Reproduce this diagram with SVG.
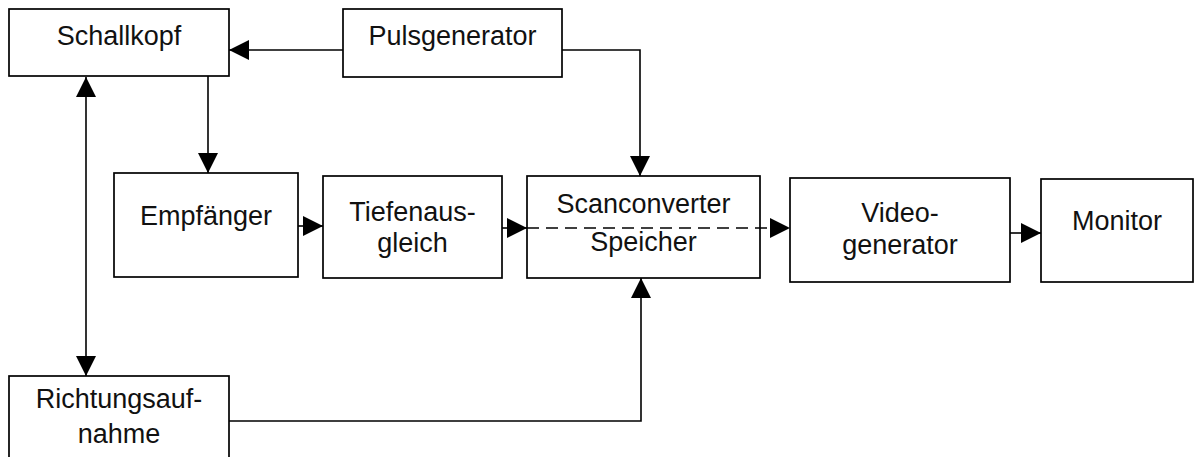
<svg xmlns="http://www.w3.org/2000/svg" width="1197" height="457" viewBox="0 0 1197 457">
<style>
  .box { fill: #ffffff; stroke: #000000; stroke-width: 1.7; }
  .lbl { font-family: "Liberation Sans", Arial, sans-serif; font-size: 27px; fill: #111111; text-anchor: middle; }
  .con { fill: none; stroke: #000000; stroke-width: 1.6; }
  .dash { stroke-dasharray: 12 7; }
</style>
<defs>
  <marker id="arr" markerUnits="userSpaceOnUse" markerWidth="20" markerHeight="20" refX="20" refY="10" orient="auto-start-reverse" viewBox="0 0 20 20">
    <path d="M0,0 L20,10 L0,20 Z" fill="#000000"/>
  </marker>
</defs>
<rect width="1197" height="457" fill="#ffffff"/>

<g id="schallkopf">
  <rect class="box" x="9" y="9" width="220" height="67"/>
  <text class="lbl" x="119" y="45">Schallkopf</text>
</g>
<g id="pulsgenerator">
  <rect class="box" x="343" y="9" width="219" height="68"/>
  <text class="lbl" x="452.5" y="45">Pulsgenerator</text>
</g>
<g id="empfaenger">
  <rect class="box" x="114" y="173" width="184" height="104"/>
  <text class="lbl" x="206" y="225">Empfänger</text>
</g>
<g id="tiefenausgleich">
  <rect class="box" x="323" y="176" width="179" height="102"/>
  <text class="lbl" x="412.5" y="221">Tiefenaus-</text>
  <text class="lbl" x="412.5" y="252">gleich</text>
</g>
<g id="scanconverter">
  <rect class="box" x="527" y="176" width="233" height="102"/>
  <text class="lbl" x="643.5" y="213">Scanconverter</text>
  <text class="lbl" x="643.5" y="251">Speicher</text>
</g>
<g id="videogenerator">
  <rect class="box" x="790" y="178" width="220" height="104"/>
  <text class="lbl" x="900" y="222">Video-</text>
  <text class="lbl" x="900" y="254">generator</text>
</g>
<g id="monitor">
  <rect class="box" x="1041" y="179" width="152" height="103"/>
  <text class="lbl" x="1117" y="230">Monitor</text>
</g>
<g id="richtungsaufnahme">
  <rect class="box" x="9" y="376" width="220" height="95"/>
  <text class="lbl" x="119" y="408">Richtungsauf-</text>
  <text class="lbl" x="119" y="443">nahme</text>
</g>

<g id="connectors">
  <path class="con" d="M343,50 H229" marker-end="url(#arr)"/>
  <path class="con" d="M562,50 H640 V176" marker-end="url(#arr)"/>
  <path class="con" d="M208,76 V173" marker-end="url(#arr)"/>
  <path class="con" d="M86,77 V376" marker-start="url(#arr)" marker-end="url(#arr)"/>
  <path class="con" d="M298,226 H323" marker-end="url(#arr)"/>
  <path class="con" d="M502,228 H527" marker-end="url(#arr)"/>
  <path class="con dash" d="M527,228 H790" marker-end="url(#arr)"/>
  <path class="con" d="M1010,233 H1041" marker-end="url(#arr)"/>
  <path class="con" d="M229,421 H641 V278" marker-end="url(#arr)"/>
</g>
</svg>
